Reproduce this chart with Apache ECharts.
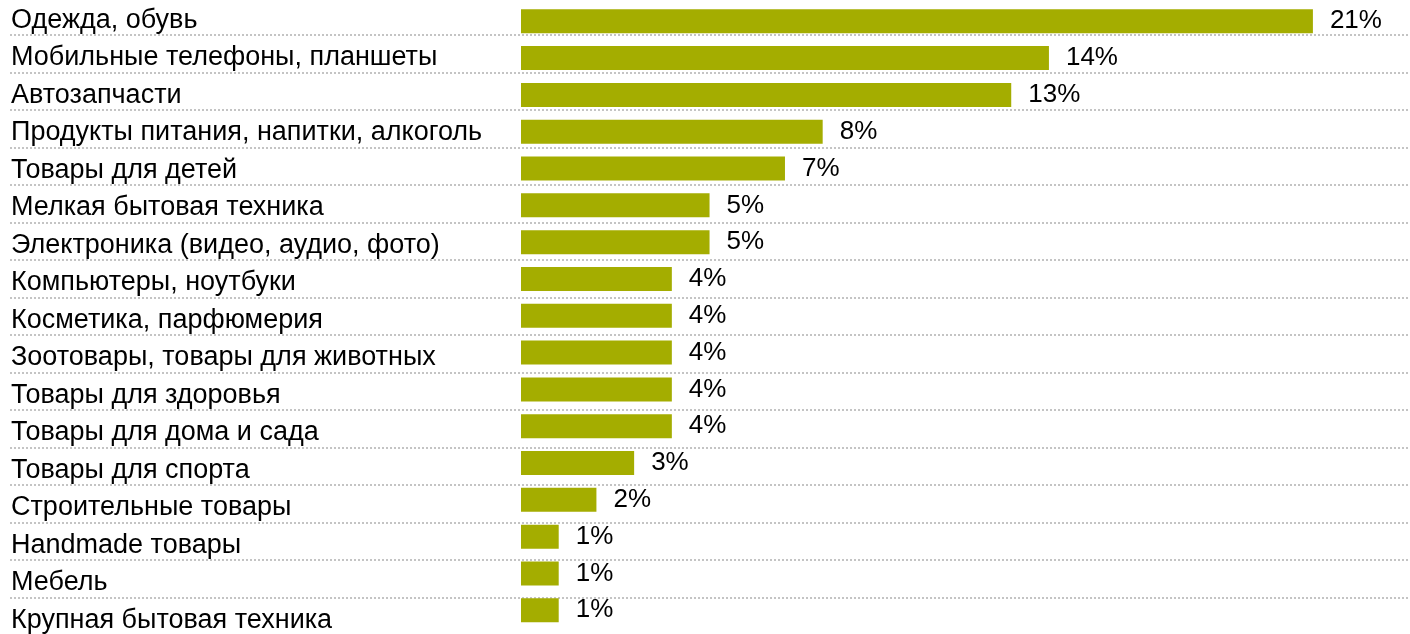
<!DOCTYPE html>
<html>
<head>
<meta charset="utf-8">
<script src="https://cdn.jsdelivr.net/npm/echarts@6/dist/echarts.min.js"></script>
<style>
  html, body { margin: 0; padding: 0; background: #fff; }
  #chart { width: 1410px; height: 634px; }
</style>
</head>
<body>
<div id="chart"></div>
<script>
// Product categories, top to bottom
const categories = [
  'Одежда, обувь',
  'Мобильные телефоны, планшеты',
  'Автозапчасти',
  'Продукты питания, напитки, алкоголь',
  'Товары для детей',
  'Мелкая бытовая техника',
  'Электроника (видео, аудио, фото)',
  'Компьютеры, ноутбуки',
  'Косметика, парфюмерия',
  'Зоотовары, товары для животных',
  'Товары для здоровья',
  'Товары для дома и сада',
  'Товары для спорта',
  'Строительные товары',
  'Handmade товары',
  'Мебель',
  'Крупная бытовая техника'
];

// Share of each category, percent
const shares = [21, 14, 13, 8, 7, 5, 5, 4, 4, 4, 4, 4, 3, 2, 1, 1, 1];

const FONT = '"Liberation Sans", Arial, sans-serif';
const BAR_COLOR = '#a4ad00';
const ROW = 37.5;               // row pitch of labels and separators
const N = categories.length;

const chart = echarts.init(document.getElementById('chart'), null, { renderer: 'canvas' });

chart.setOption({
  animation: false,
  backgroundColor: '#ffffff',
  grid: [
    // bars
    { left: 521, top: 2.9, width: 23 * 37.71, height: 36.81 * N },
    // row labels: one tick per row
    { left: 10, right: 0, top: 20.5, height: ROW * (N - 1) },
    // dotted separators between rows
    { left: 10, right: 0, top: 35, height: ROW * (N - 2) }
  ],
  xAxis: [
    { gridIndex: 0, type: 'value', min: 0, max: 23, show: false },
    { gridIndex: 1, type: 'value', min: 0, max: 1, show: false },
    { gridIndex: 2, type: 'value', min: 0, max: 1, show: false }
  ],
  yAxis: [
    {
      gridIndex: 0, type: 'category', data: categories, inverse: true,
      axisLine: { show: false }, axisTick: { show: false }, axisLabel: { show: false },
      splitLine: { show: false }
    },
    {
      gridIndex: 1, type: 'value', inverse: true, min: 0, max: N - 1, interval: 1,
      axisLine: { show: false }, axisTick: { show: false }, splitLine: { show: false },
      axisLabel: {
        inside: true, margin: 1, align: 'left', verticalAlign: 'middle',
        color: '#000', fontFamily: FONT, fontSize: 27,
        padding: [3, 0, 0, 0],
        formatter: v => categories[v] || ''
      }
    },
    {
      gridIndex: 2, type: 'value', inverse: true, min: 0, max: N - 2, interval: 1,
      axisLine: { show: false }, axisTick: { show: false }, axisLabel: { show: false },
      splitLine: {
        show: true,
        lineStyle: { color: '#c4c4c4', width: 2, type: [2, 2] }
      }
    }
  ],
  series: [
    {
      type: 'bar',
      xAxisIndex: 0, yAxisIndex: 0,
      data: shares,
      barWidth: 24,
      itemStyle: { color: BAR_COLOR },
      label: {
        show: true, position: 'right', distance: 17,
        formatter: p => p.value + '%',
        color: '#000', fontFamily: FONT, fontSize: 26
      }
    }
  ]
});
</script>
</body>
</html>
